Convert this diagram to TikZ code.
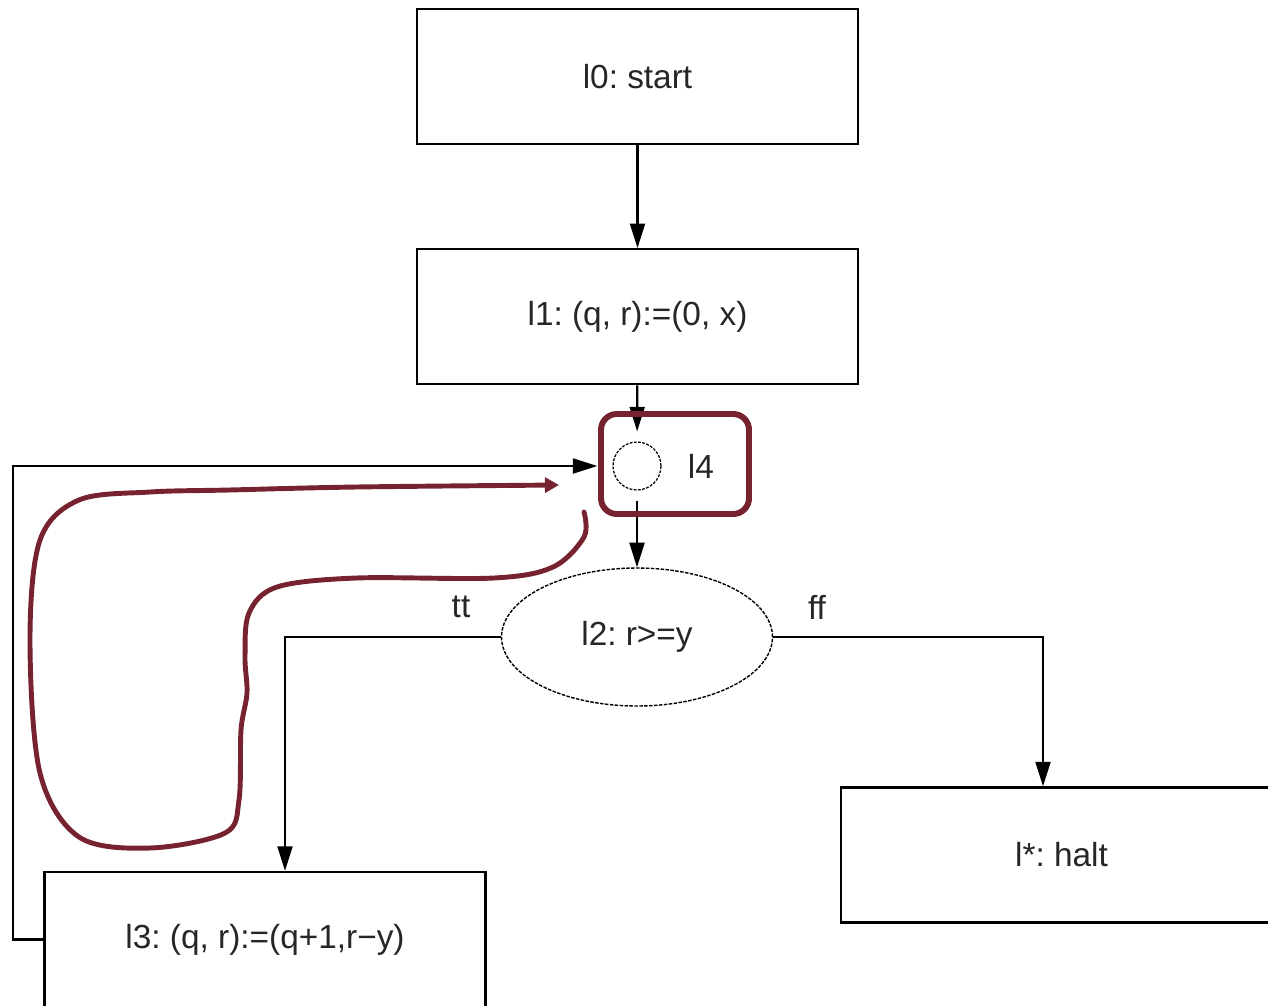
\documentclass[tikz,border=0pt]{standalone}
\usepackage{fontspec}
\setmainfont{Liberation Sans}
\frenchspacing
\usetikzlibrary{arrows.meta,positioning,shapes.geometric}
\definecolor{maroon}{HTML}{76232F}
\definecolor{ink}{HTML}{262626}
\tikzset{
  stmt/.style={rectangle,draw=black,line width=1.3pt,minimum width=8.82cm,
    minimum height=2.7cm,font=\fontsize{19}{23}\selectfont,text=ink},
  junction/.style={circle,draw=black,line width=0.7pt,dash pattern=on 1.6pt off 0.8pt,
    minimum size=0.96cm,inner sep=0pt},
  test/.style={ellipse,draw=black,line width=0.8pt,dash pattern=on 2pt off 0.8pt,
    minimum width=5.42cm,minimum height=2.76cm,font=\fontsize{19}{23}\selectfont,text=ink},
  lbl/.style={inner sep=0pt,font=\fontsize{19}{23}\selectfont,text=ink},
  arrow/.style={-{Triangle[length=14pt,width=8.5pt]},line width=1.3pt,draw=black},
  hilite/.style={draw=maroon,line width=3.4pt,rounded corners=9pt},
  trace/.style={-{Triangle[length=8pt,width=8.5pt]},draw=maroon,line width=2.8pt,line cap=round}
}
\begin{document}
\begin{tikzpicture}[x=0.02cm,y=-0.02cm,node distance=2.06cm]
\clip (0,0) rectangle (1268,1005);
% program points
\node[stmt] (l0) at (637.5,76.5) {l0: start};
\node[stmt,below=of l0] (l1) {l1: (q, r):=(0, x)};
\node[junction] (l4) at (637,466) {};
\node[lbl,right=0.52cm of l4] (l4lbl) {l4};
\node[test] (l2) at (637,637) {l2: r>=y};
\node[stmt] (l3) at (265,939.5) {l3: (q, r):=(q+1,r−y)};
\node[stmt] (halt) at (1061.5,855) {l*: halt};
\node[lbl] (tt) at (461,607) {tt};
\node[lbl] (ff) at (817,607) {ff};
\coordinate (loop) at (13,466);
% edges
\draw[arrow] (l0) -- (l1);
\draw[arrow,shorten >=0.2cm] (l1) -- (l4);
\draw[arrow,shorten <=0.2cm] (l4) -- (l2);
\draw[arrow] (l2.west) -| ([xshift=0.4cm]l3.north);
\draw[arrow] (l2.east) -| ([xshift=-0.37cm]halt.north);
\draw[arrow,shorten >=0.3cm] (l3.west) -| (loop) -- (l4.west);
% loop head and the path around it
\draw[hilite] (601,414) rectangle (749,514);
\draw[trace] plot[smooth,tension=0.55] coordinates {(584,512) (584,537) (553,567)
  (494,578) (356,578) (277,587) (249,613) (245,657) (247,693) (241,730) (239,800)
  (225,833) (150,848) (79,837) (40,773) (30,640) (40,540) (79,500) (150,492)
  (229,490) (356,487) (559,485)};
\end{tikzpicture}
\end{document}
